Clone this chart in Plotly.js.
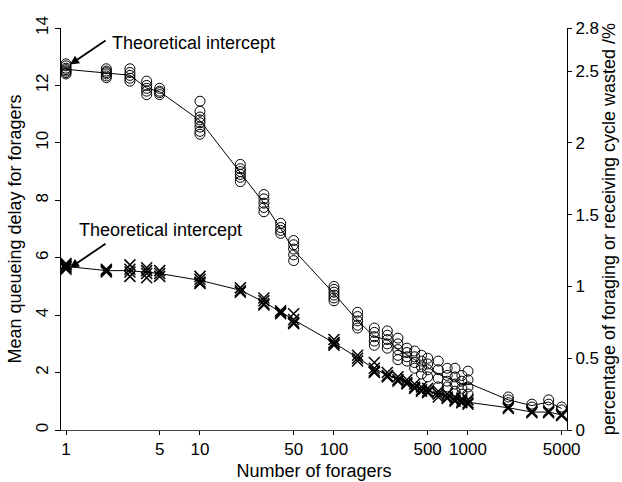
<!DOCTYPE html>
<html>
<head>
<meta charset="utf-8">
<script src="https://cdn.plot.ly/plotly-3.0.1.min.js"></script>
<style>html,body{margin:0;padding:0;background:#fff;}#chart{width:622px;height:482px;}</style>
</head>
<body>
<div id="chart"></div>
<script>
// Number of foragers (x, log scale)
const foragers = [1,2,3,4,5,10,20,30,40,50,100,150,200,250,300,350,400,450,500,600,700,800,900,1000,2000,3000,4000,5000];

// Mean queueing delay for foragers (open circles, left axis) - replicate runs per forager count
const queueDelay = [
  [12.75,12.68,12.6,12.55,12.5,12.45,12.4],
  [12.58,12.5,12.45,12.4,12.33,12.27],
  [12.58,12.45,12.35,12.25,12.15],
  [12.15,12.0,11.9,11.8,11.68],
  [11.9,11.8,11.75,11.68],
  [11.45,11.1,10.9,10.8,10.7,10.55,10.4,10.3],
  [9.25,9.1,9.0,8.9,8.8,8.65],
  [8.2,8.05,7.9,7.75,7.6],
  [7.2,7.05,6.95,6.85],
  [6.6,6.45,6.3,6.1,5.9],
  [5.0,4.9,4.8,4.7,4.6,4.5],
  [4.1,3.95,3.8,3.65,3.55],
  [3.55,3.4,3.25,3.1,2.95],
  [3.45,3.3,3.15,3.0,2.85],
  [3.2,3.0,2.8,2.6,2.45],
  [2.85,2.7,2.55,2.4],
  [2.75,2.55,2.35,2.15],
  [2.6,2.4,2.2,1.95],
  [2.5,2.3,2.1,1.85],
  [2.4,2.1,1.8,1.5],
  [2.15,1.9,1.7,1.5],
  [2.15,1.85,1.6,1.35],
  [1.9,1.7,1.45,1.25],
  [2.05,1.75,1.5,1.25],
  [1.15,1.05,0.95],
  [0.9,0.8],
  [1.05,0.9],
  [0.8,0.7]
];

// Percentage of foraging or receiving cycle wasted (crosses, right axis)
const cycleWasted = [
  [1.16,1.15,1.14,1.13,1.12],
  [1.12,1.11,1.10],
  [1.15,1.12,1.10,1.07],
  [1.13,1.11,1.09,1.06],
  [1.11,1.09,1.07],
  [1.07,1.05,1.03,1.02],
  [0.99,0.97,0.96],
  [0.92,0.90,0.88,0.87],
  [0.83,0.82,0.81],
  [0.81,0.77,0.75,0.74],
  [0.63,0.61,0.60,0.59],
  [0.52,0.50,0.48],
  [0.47,0.43,0.41,0.40],
  [0.40,0.38,0.37],
  [0.37,0.35,0.34],
  [0.35,0.33,0.32],
  [0.32,0.30,0.29],
  [0.30,0.28,0.27],
  [0.29,0.27,0.26],
  [0.27,0.25,0.23],
  [0.25,0.23,0.22],
  [0.23,0.21,0.20],
  [0.22,0.20,0.19],
  [0.21,0.19,0.18],
  [0.16,0.15],
  [0.13,0.12],
  [0.13,0.12],
  [0.11,0.10]
];

const xTickVals = [1,5,10,50,100,500,1000,5000];
const xTickText = ['1','5','10','50','100','500','1000','5000'];
const yLeftTicks = [0,2,4,6,8,10,12,14];
const yRightTicks = [0,0.5,1,1.5,2,2.5,2.8];
const yRightText = ['0','0.5','1','1.5','2','2.5','2.8'];
const annotationText = 'Theoretical intercept';

function flatten(groups){
  const xs=[], ys=[];
  groups.forEach((g,i)=>g.forEach(v=>{xs.push(foragers[i]); ys.push(v);}));
  return {xs, ys};
}
const mean = a => a.reduce((s,v)=>s+v,0)/a.length;

const qd = flatten(queueDelay);
const cw = flatten(cycleWasted);

const traces = [
  {x: foragers, y: queueDelay.map(mean), mode:'lines', line:{color:'#000', width:1}, yaxis:'y', hoverinfo:'skip'},
  {x: qd.xs, y: qd.ys, mode:'markers', yaxis:'y',
   marker:{symbol:'circle-open', size:10, color:'#000', line:{width:1, color:'#000'}}},
  {x: foragers, y: cycleWasted.map(mean), mode:'lines', line:{color:'#000', width:1}, yaxis:'y2', hoverinfo:'skip'},
  {x: cw.xs, y: cw.ys, mode:'markers', yaxis:'y2',
   marker:{symbol:'x-thin-open', size:11, color:'#000', line:{width:1.5, color:'#000'}}}
];

const font = {family:'"Liberation Sans", Arial, Helvetica, sans-serif', color:'#000'};

const layout = {
  width:622, height:482,
  margin:{l:61, r:55, t:28, b:52},
  paper_bgcolor:'#fff', plot_bgcolor:'#fff',
  showlegend:false,
  font: Object.assign({size:17}, font),
  xaxis:{
    type:'log', range:[-0.0373, 3.739],
    tickvals:xTickVals, ticktext:xTickText,
    ticks:'outside', ticklen:4, tickcolor:'#000',
    showline:true, linecolor:'#444', linewidth:1,
    showgrid:false, zeroline:false,
    tickfont: Object.assign({size:17}, font),
    title:{text:'Number of foragers', font:Object.assign({size:18}, font), standoff:5}
  },
  yaxis:{
    range:[0,14], tickvals:yLeftTicks, tickangle:-90,
    ticks:'outside', ticklen:5, tickcolor:'#000',
    showline:true, linecolor:'#000', linewidth:1,
    showgrid:false, zeroline:false,
    tickfont: Object.assign({size:17}, font),
    title:{text:'Mean queueing delay for foragers', font:Object.assign({size:18}, font), standoff:6}
  },
  yaxis2:{
    overlaying:'y', side:'right', range:[0,2.8],
    tickvals:yRightTicks, ticktext:yRightText,
    ticks:'outside', ticklen:4, tickcolor:'#000',
    showline:true, linecolor:'#000', linewidth:1,
    showgrid:false, zeroline:false,
    tickfont: Object.assign({size:17}, font),
    title:{text:'percentage of foraging or receiving cycle wasted /%', font:Object.assign({size:18}, font), standoff:1}
  },
  annotations:[
    {x:0.03, y:12.73, xref:'x', yref:'y', text:'', showarrow:true, ax:37, ay:-25,
     arrowhead:2, arrowsize:1, arrowwidth:1.8, arrowcolor:'#000'},
    {x:0.328, y:13.49, xref:'x', yref:'y', text:annotationText, showarrow:false,
     xanchor:'left', yanchor:'middle', font:Object.assign({size:18}, font)},
    {x:0.03, y:5.65, xref:'x', yref:'y', text:'', showarrow:true, ax:37, ay:-25,
     arrowhead:2, arrowsize:1, arrowwidth:1.8, arrowcolor:'#000'},
    {x:0.082, y:6.97, xref:'x', yref:'y', text:annotationText, showarrow:false,
     xanchor:'left', yanchor:'middle', font:Object.assign({size:18}, font)}
  ]
};

Plotly.newPlot('chart', traces, layout, {displayModeBar:false, staticPlot:true});
</script>
</body>
</html>
